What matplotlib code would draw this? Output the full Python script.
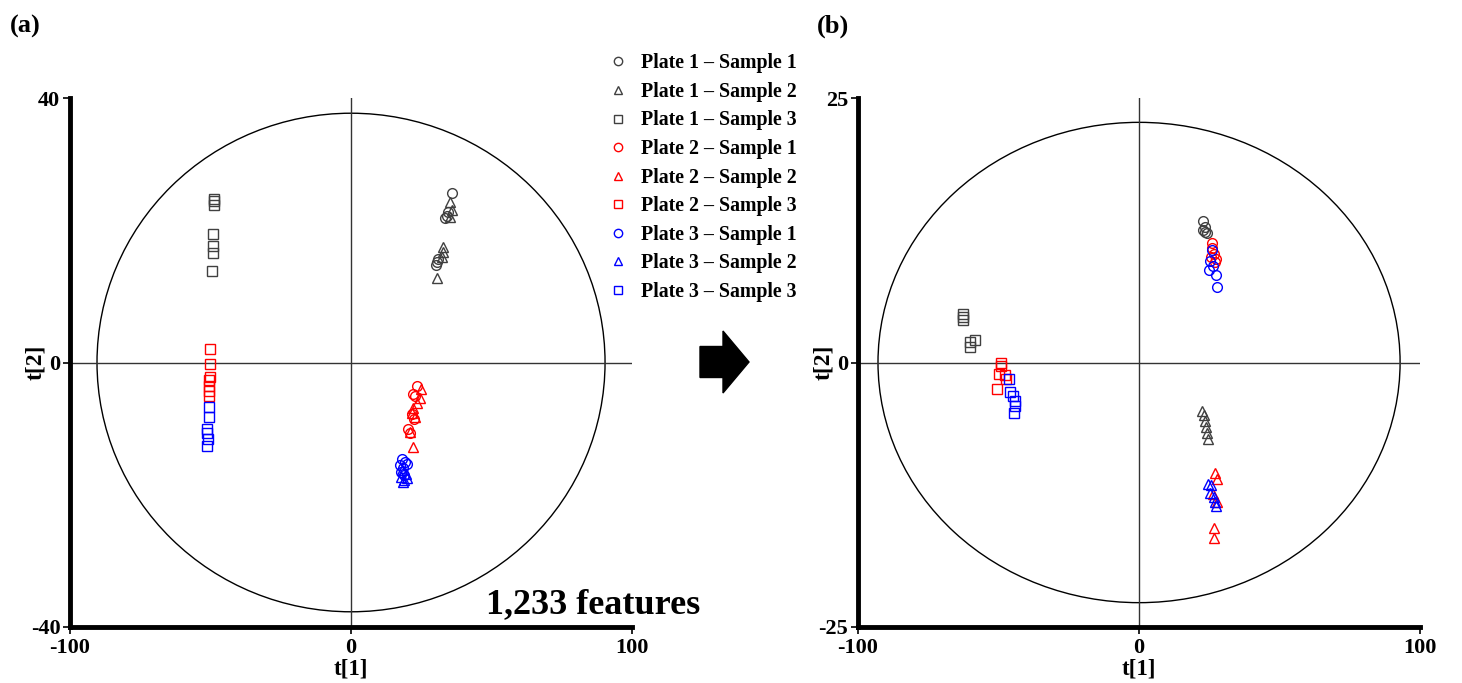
import matplotlib
matplotlib.use("Agg")
import matplotlib.pyplot as plt
from matplotlib.patches import Ellipse, FancyArrow
from matplotlib.lines import Line2D

plt.rcParams['font.family'] = ['Liberation Serif', 'DejaVu Serif']
plt.rcParams['font.weight'] = 'bold'
plt.rcParams['axes.labelweight'] = 'bold'
plt.rcParams['axes.unicode_minus'] = False

labels = ['Plate 1 – Sample 1', 'Plate 1 – Sample 2', 'Plate 1 – Sample 3',
          'Plate 2 – Sample 1', 'Plate 2 – Sample 2', 'Plate 2 – Sample 3',
          'Plate 3 – Sample 1', 'Plate 3 – Sample 2', 'Plate 3 – Sample 3']
colors = ['#404040'] * 3 + ['#ff0000'] * 3 + ['#0000ff'] * 3
markers = ['o', '^', 's'] * 3

# (a) before correction
a_t1 = [
    [35.8, 34.0, 33.5, 34.5, 31.1, 30.2, 30.6],
    [35.2, 35.8, 35.4, 32.6, 32.9, 32.2, 30.7],
    [-48.6, -48.6, -48.8, -49.2, -49.2, -49.2, -49.4],
    [23.4, 22.2, 22.8, 21.6, 22.4, 20.4, 20.9],
    [24.8, 24.6, 23.4, 22.2, 21.6, 22.9, 21.0, 21.9],
    [-50.2, -50.2, -50.2, -50.4, -50.6, -50.6, -50.6],
    [18.0, 19.2, 17.5, 18.6, 19.8, 17.9, 18.8],
    [18.3, 19.5, 17.8, 19.0, 18.5, 19.8],
    [-50.4, -50.4, -51.1, -51.1, -50.9, -51.1],
]
a_t2 = [
    [25.6, 22.2, 21.9, 22.7, 15.7, 14.7, 15.2],
    [24.3, 23.1, 22.0, 17.4, 16.7, 15.9, 12.8],
    [24.8, 24.5, 23.8, 19.4, 17.6, 16.5, 13.8],
    [-3.5, -4.7, -5.0, -7.8, -8.6, -10.0, -10.6],
    [-4.0, -5.4, -6.2, -6.9, -7.6, -8.2, -10.5, -12.8],
    [2.1, -0.3, -2.2, -2.7, -3.5, -4.3, -5.0],
    [-14.6, -15.0, -15.5, -16.0, -15.3, -16.6, -17.0],
    [-16.2, -16.8, -17.3, -17.8, -18.0, -17.5],
    [-6.7, -8.2, -10.1, -10.7, -11.5, -12.6],
]

# (b) after correction
b_t1 = [
    [22.9, 22.9, 23.5, 24.1, 23.3],
    [22.3, 23.0, 23.5, 23.8, 24.2, 24.7],
    [-62.5, -62.5, -62.5, -60.1, -58.4, -60.3],
    [25.9, 26.5, 27.0, 27.4, 26.0, 25.6],
    [27.0, 27.6, 26.2, 27.9, 26.7, 26.5],
    [-49.1, -49.1, -49.7, -47.7, -47.2, -50.4],
    [25.9, 25.3, 25.0, 27.4, 27.9, 26.3],
    [24.7, 25.6, 25.2, 26.5, 27.0, 27.4],
    [-46.3, -45.9, -44.7, -44.1, -44.1, -44.5],
]
b_t2 = [
    [13.4, 12.5, 12.8, 12.2, 12.3],
    [-4.6, -5.0, -5.5, -6.1, -6.7, -7.2],
    [4.6, 4.3, 4.0, 1.9, 2.1, 1.45],
    [11.3, 10.3, 9.5, 9.8, 10.8, 10.0],
    [-10.4, -11.0, -12.4, -13.2, -15.6, -16.6],
    [0.0, -0.3, -1.1, -1.2, -1.6, -2.5],
    [10.6, 9.6, 8.7, 8.3, 7.1, 9.1],
    [-11.5, -11.6, -12.3, -12.7, -13.2, -13.6],
    [-1.6, -2.8, -3.2, -3.6, -4.1, -4.8],
]

a_ylim = 40
b_ylim = 25
a_ell = (90.4, 37.7)
b_ell = (92.9, 22.7)

fig = plt.figure(figsize=(14.62, 6.83), dpi=100)
ax1 = fig.add_axes([0.0479, 0.082, 0.3844, 0.7745])
ax2 = fig.add_axes([0.5869, 0.082, 0.3844, 0.7745])


def panel(ax, t1, t2, ylim, ell):
    ax.add_patch(Ellipse((0, 0), 2 * ell[0], 2 * ell[1], fill=False,
                         lw=1, ec='black'))
    ax.axhline(0, color='#333333', lw=1)
    ax.axvline(0, color='#333333', lw=1)
    for i in range(9):
        ax.plot(t1[i], t2[i], ls='none', marker=markers[i], mfc='none',
                mec=colors[i], mew=1, ms=7)
    ax.set_xlim(-100, 100)
    ax.set_ylim(-ylim, ylim)
    ax.set_xticks([-100, 0, 100])
    ax.set_yticks([-ylim, 0, ylim])
    for s in ['top', 'right']:
        ax.spines[s].set_visible(False)
    for s in ['left', 'bottom']:
        ax.spines[s].set_linewidth(3.5)
    ax.tick_params(length=5, width=1.2, labelsize=16, pad=2)
    ax.tick_params(axis='x', pad=3)
    ax.set_xlabel('t[1]', fontsize=16.5, labelpad=0)
    ax.set_ylabel('t[2]', fontsize=17, labelpad=-11)


panel(ax1, a_t1, a_t2, a_ylim, a_ell)
panel(ax2, b_t1, b_t2, b_ylim, b_ell)

ax1.text(1.121, 0.026, '1,233 features', transform=ax1.transAxes,
         ha='right', va='baseline', fontsize=26)

fig.text(0.007, 0.952, '(a)', fontsize=19)
fig.text(0.559, 0.952, '(b)', fontsize=19)

handles = [Line2D([], [], ls='none', marker=markers[i], mfc='none',
                  mec=colors[i], mew=1, ms=6) for i in range(9)]
fig.legend(handles, labels, loc='upper left', bbox_to_anchor=(0.402, 0.948),
           frameon=False, fontsize=14.3, handletextpad=0.6,
           labelspacing=0.43, handlelength=1.2)

fig.patches.append(FancyArrow(700 / 1462, 1 - 362 / 683, 49 / 1462, 0,
                              width=31 / 683, head_width=62 / 683,
                              head_length=26 / 1462,
                              length_includes_head=True,
                              transform=fig.transFigure, color='black'))

fig.savefig('out.png', dpi=100)
